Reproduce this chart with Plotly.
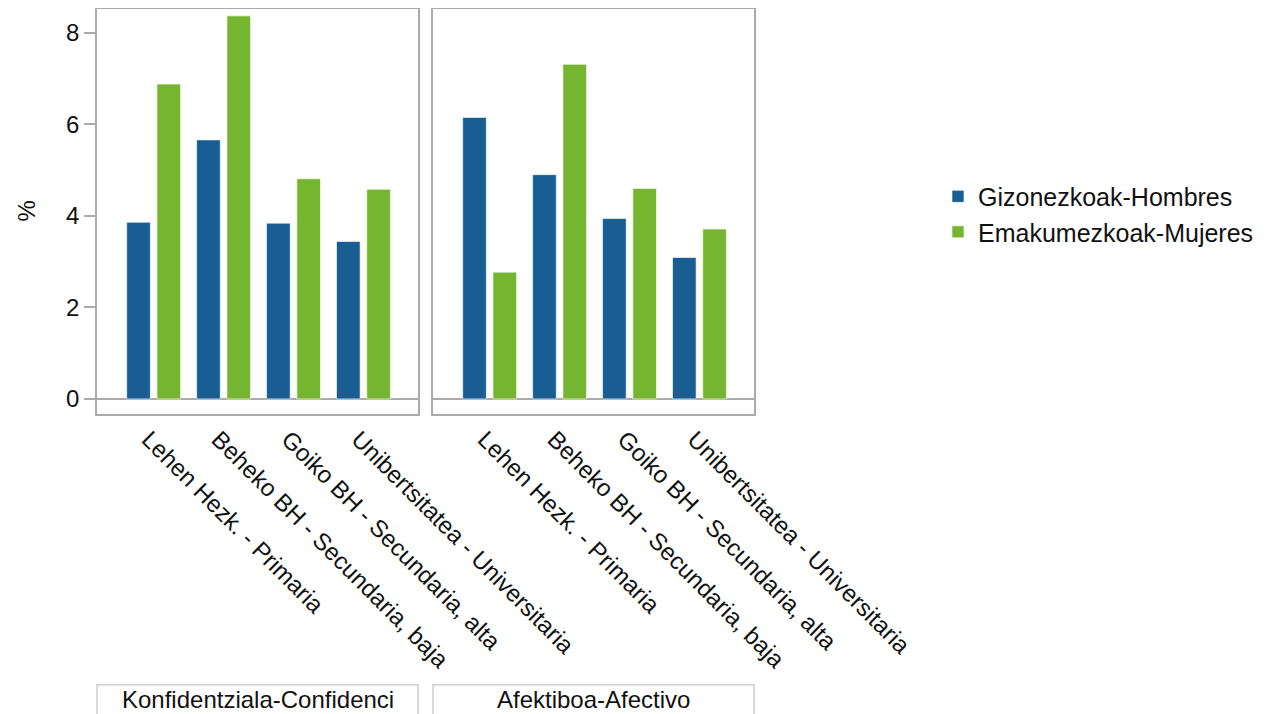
import plotly.graph_objects as go

categories = ["Lehen Hezk. - Primaria", "Beheko BH - Secundaria, baja",
              "Goiko BH - Secundaria, alta", "Unibertsitatea - Universitaria"]
panel_titles = ["Konfidentziala-Confidenci", "Afektiboa-Afectivo"]
series_names = ["Gizonezkoak-Hombres", "Emakumezkoak-Mujeres"]
men_conf = [3.86, 5.66, 3.84, 3.44]
women_conf = [6.88, 8.37, 4.81, 4.58]
men_afec = [6.15, 4.90, 3.94, 3.09]
women_afec = [2.77, 7.31, 4.60, 3.71]
y_ticks = [0, 2, 4, 6, 8]

BLUE = "#185e93"
GREEN = "#75b52f"
GRID = "#ababab"
FONT = "Liberation Sans, Arial, sans-serif"
TXT = "#111111"

fig = go.Figure()
panels = [(men_conf, women_conf, "x", "y"), (men_afec, women_afec, "x2", "y2")]
for i, (m, w, xa, ya) in enumerate(panels):
    fig.add_trace(go.Bar(x=categories, y=m, name=series_names[0], marker_color=BLUE,
                         marker_line=dict(color="white", width=0.6),
                         xaxis=xa, yaxis=ya, legendgroup="m", showlegend=(i == 0)))
    fig.add_trace(go.Bar(x=categories, y=w, name=series_names[1], marker_color=GREEN,
                         marker_line=dict(color="white", width=0.6),
                         xaxis=xa, yaxis=ya, legendgroup="w", showlegend=(i == 0)))

# the page body adds an 8px offset, so work in screen coords minus 8
OFF = 8
W, H = 1286 - OFF, 714 - OFF
L, R, T, B = 97 - OFF, 754 - OFF, 8 - OFF + 0.75, 414 - OFF
pw = R - L
ph = B - T
d1 = (418 - OFF - L) / pw
d2 = (433 - OFF - L) / pw

xcommon = dict(range=[-0.81, 3.78], showline=True, mirror=True, linecolor=GRID, linewidth=1.5,
               ticks="", tickangle=45, showgrid=False, zeroline=False, ticklabelshift=-5,
               tickfont=dict(family=FONT, size=24, color=TXT))
ycommon = dict(range=[-0.33, 8.52], showline=True, mirror=True, linecolor=GRID, linewidth=1.5,
               showgrid=False, zeroline=True, zerolinecolor=GRID, zerolinewidth=1.5,
               tickvals=y_ticks)

fig.update_layout(
    width=W, height=H,
    margin=dict(l=L, r=W - R, t=T, b=H - B),
    paper_bgcolor="white", plot_bgcolor="white",
    barmode="group", bargap=0.134, bargroupgap=0.22,
    font=dict(family=FONT, color=TXT),
    xaxis=dict(domain=[0, d1], anchor="y", **xcommon),
    xaxis2=dict(domain=[d2, 1], anchor="y2", **xcommon),
    yaxis=dict(anchor="x", ticks="outside", ticklen=11, tickwidth=1.5, tickcolor=GRID,
               tickfont=dict(family=FONT, size=24, color=TXT), **ycommon),
    yaxis2=dict(anchor="x2", matches="y", showticklabels=False, ticks="", **ycommon),
    legend=dict(x=(938 - OFF - L) / pw, y=(B - (214 - OFF)) / ph, xanchor="left", yanchor="middle",
                font=dict(family=FONT, size=25, color=TXT), traceorder="normal",
                itemwidth=30, tracegroupgap=0),
    showlegend=True,
)

# y-axis title
fig.add_annotation(text="%", xref="paper", yref="paper", x=(26 - OFF - L) / pw, y=0.5,
                   xanchor="center", yanchor="middle", textangle=-90, showarrow=False,
                   font=dict(family=FONT, size=24, color=TXT))

# facet strips at bottom
strip_top = (B - (685 - OFF)) / ph
strip_bot = (B - (730 - OFF)) / ph
for (x0, x1), title in zip([(0, d1), (d2, 1)], panel_titles):
    fig.add_shape(type="rect", xref="paper", yref="paper", x0=x0, x1=x1,
                  y0=strip_bot, y1=strip_top, line=dict(color="#d0d0d0", width=1.5),
                  fillcolor="white", layer="below")
    fig.add_annotation(text=title, xref="paper", yref="paper", x=(x0 + x1) / 2,
                       y=(B - (700 - OFF)) / ph, xanchor="center", yanchor="middle", showarrow=False,
                       font=dict(family=FONT, size=24, color=TXT))

fig.write_html("out.html")
